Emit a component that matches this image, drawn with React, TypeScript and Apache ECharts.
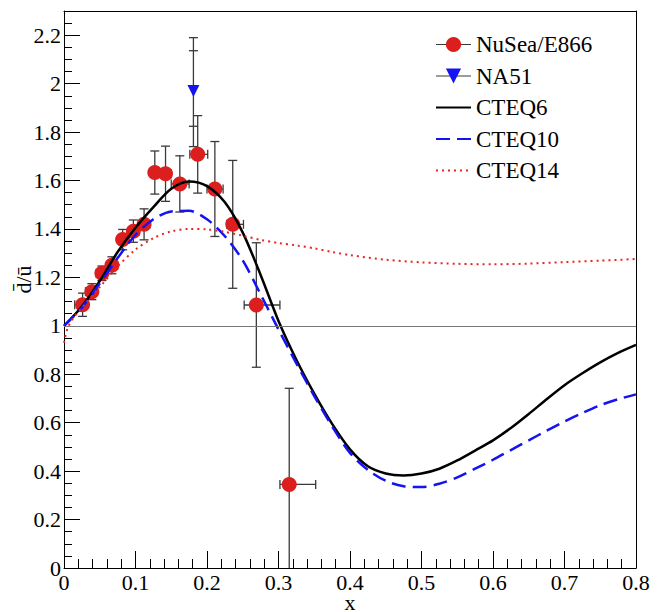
import React, { useEffect, useRef } from 'react';
import * as echarts from 'echarts';

// NuSea/E866 data points
const e866X = [0.026, 0.039, 0.053, 0.067, 0.082, 0.097, 0.112, 0.127, 0.142, 0.162, 0.187, 0.211, 0.236, 0.269, 0.315];
const e866Y = [1.087, 1.141, 1.217, 1.25, 1.356, 1.391, 1.419, 1.633, 1.628, 1.586, 1.708, 1.565, 1.419, 1.086, 0.345];
const e866YErr = [0.048, 0.033, 0.03, 0.035, 0.042, 0.046, 0.064, 0.089, 0.114, 0.116, 0.16, 0.196, 0.264, 0.257, 0.397];
const e866XLow = [0.015, 0.03, 0.045, 0.06, 0.075, 0.09, 0.105, 0.12, 0.135, 0.15, 0.176, 0.2, 0.2275, 0.252, 0.302];
const e866XHigh = [0.03, 0.045, 0.06, 0.075, 0.09, 0.105, 0.12, 0.135, 0.15, 0.175, 0.201, 0.2225, 0.251, 0.302, 0.352];

// NA51 point
const na51X = [0.181];
const na51Y = [1.97];
const na51StatLow = [1.824];
const na51StatHigh = [2.136];
const na51TotLow = [1.74];
const na51TotHigh = [2.19];

// Curves sampled on a common x grid
const curveX = [0, 0.025, 0.05, 0.075, 0.1, 0.125, 0.15, 0.175, 0.2, 0.225, 0.25, 0.275, 0.3, 0.325, 0.35, 0.375, 0.4, 0.425, 0.45, 0.475, 0.5, 0.525, 0.55, 0.575, 0.6, 0.625, 0.65, 0.675, 0.7, 0.725, 0.75, 0.775, 0.8];
const cteq6Y = [1.0, 1.08, 1.185, 1.305, 1.405, 1.49, 1.566, 1.596, 1.577, 1.51, 1.385, 1.21, 1.02, 0.86, 0.72, 0.595, 0.49, 0.42, 0.39, 0.382, 0.39, 0.41, 0.444, 0.485, 0.527, 0.578, 0.636, 0.697, 0.755, 0.804, 0.849, 0.888, 0.921];
const cteq10Y = [1.0, 1.075, 1.175, 1.28, 1.375, 1.44, 1.472, 1.475, 1.44, 1.37, 1.27, 1.13, 0.985, 0.845, 0.71, 0.585, 0.475, 0.405, 0.36, 0.338, 0.334, 0.348, 0.374, 0.41, 0.447, 0.487, 0.527, 0.567, 0.605, 0.64, 0.672, 0.697, 0.717];

// CTEQ14 curve (steep start near x = 0)
const cteq14X = [0, 0.005, 0.0125, 0.025, 0.05, 0.075, 0.1, 0.125, 0.15, 0.175, 0.2, 0.225, 0.25, 0.275, 0.3, 0.325, 0.35, 0.375, 0.4, 0.45, 0.5, 0.55, 0.6, 0.65, 0.7, 0.75, 0.8];
const cteq14Y = [0.93, 0.99, 1.03, 1.075, 1.16, 1.245, 1.315, 1.362, 1.39, 1.4, 1.398, 1.388, 1.372, 1.355, 1.342, 1.332, 1.32, 1.305, 1.292, 1.273, 1.262, 1.256, 1.254, 1.257, 1.263, 1.269, 1.276];

const FONT = '"Liberation Serif", "Times New Roman", serif';
const RED = '#dd1e1e';
const BLUE = '#1414f0';
const BAR = '#3a3a3a';

const zip = (xs: number[], ys: number[]) => xs.map((x, i) => [x, ys[i]]);

export default function App() {
  const ref = useRef<HTMLDivElement>(null);
  useEffect(() => {
    if (!ref.current) return;
    const chart = echarts.init(ref.current, null, { renderer: 'svg' });
    const barStyle = { stroke: BAR, lineWidth: 1.3 };
    const cap = 4.5;
    const vline = (x: number, y1: number, y2: number) => ({ type: 'line', shape: { x1: x, y1, x2: x, y2 }, style: barStyle });
    const hline = (x1: number, x2: number, y: number) => ({ type: 'line', shape: { x1, y1: y, x2, y2: y }, style: barStyle });

    const option: any = {
      animation: false,
      textStyle: { fontFamily: FONT, color: '#000' },
      grid: { left: 64, right: 25, top: 11, bottom: 44, containLabel: false, outerBoundsMode: 'none' },
      xAxis: [
        {
          type: 'value', min: 0, max: 0.8, interval: 0.1, position: 'bottom',
          axisLine: { show: true, onZero: false, lineStyle: { color: '#000', width: 1 } },
          axisTick: { show: true, inside: true, length: 17, lineStyle: { color: '#000', width: 1 } },
          minorTick: { show: true, splitNumber: 5, length: 9, lineStyle: { color: '#000', width: 1 } },
          splitLine: { show: false },
          axisLabel: { fontFamily: FONT, fontSize: 22, color: '#000', margin: 3 },
          name: 'x', nameLocation: 'middle', nameGap: 27, nameMoveOverlap: false,
          nameTextStyle: { fontFamily: FONT, fontSize: 22, color: '#000', lineHeight: 14 },
        },
        {
          type: 'value', min: 0, max: 0.8, position: 'top',
          axisLine: { show: true, onZero: false, lineStyle: { color: '#000', width: 1 } },
          axisTick: { show: false }, axisLabel: { show: false }, splitLine: { show: false },
        },
      ],
      yAxis: [
        {
          type: 'value', min: 0, max: 2.3, interval: 0.2, position: 'left',
          axisLine: { show: true, onZero: false, lineStyle: { color: '#000', width: 1 } },
          axisTick: { show: true, inside: true, length: 16, lineStyle: { color: '#000', width: 1 } },
          splitLine: { show: false },
          axisLabel: { fontFamily: FONT, fontSize: 22, color: '#000', margin: 3, showMaxLabel: false },
          name: 'd\u0304/\u016b', nameLocation: 'middle', nameGap: 30, nameMoveOverlap: false,
          nameTextStyle: { fontFamily: FONT, fontSize: 22, color: '#000', padding: [0, 0, 0, 20] },
        },
        {
          type: 'value', min: 0, max: 2.3, interval: 0.05, position: 'left', offset: 0,
          axisLine: { show: false },
          axisTick: { show: true, inside: true, length: 8, lineStyle: { color: '#000', width: 1 } },
          axisLabel: { show: false }, splitLine: { show: false },
        },
        {
          type: 'value', min: 0, max: 2.3, position: 'right',
          axisLine: { show: true, onZero: false, lineStyle: { color: '#000', width: 1 } },
          axisTick: { show: false }, axisLabel: { show: false }, splitLine: { show: false },
        },
      ],
      legend: {
        orient: 'vertical', left: 430, top: 28,
        itemWidth: 35, itemHeight: 19, itemGap: 8.5,
        textStyle: { fontFamily: FONT, fontSize: 23, color: '#000', lineHeight: 23 },
        data: [
          { name: 'NuSea/E866', lineStyle: { color: BAR, width: 1.2, opacity: 1, type: 'solid' } },
          { name: 'NA51', lineStyle: { color: BAR, width: 1.2, opacity: 1, type: 'solid' } },
          { name: 'CTEQ6', itemStyle: { opacity: 0 } },
          { name: 'CTEQ10', itemStyle: { opacity: 0 } },
          { name: 'CTEQ14', itemStyle: { opacity: 0 } },
        ],
      },
      series: [
        {
          name: 'E866 errors', type: 'custom', clip: true, z: 2, silent: true,
          encode: { x: 0, y: 1 },
          data: e866X.map((x, i) => [x, e866Y[i], e866YErr[i], e866XLow[i], e866XHigh[i]]),
          renderItem: (params: any, api: any) => {
            const x = api.value(0), y = api.value(1), e = api.value(2), xl = api.value(3), xh = api.value(4);
            const c = api.coord([x, y]);
            const t = api.coord([x, y + e]);
            const b = api.coord([x, y - e]);
            const l = api.coord([xl, y]);
            const r = api.coord([xh, y]);
            return {
              type: 'group',
              children: [
                vline(c[0], t[1], b[1]),
                hline(c[0] - cap, c[0] + cap, t[1]),
                hline(c[0] - cap, c[0] + cap, b[1]),
                hline(l[0], r[0], c[1]),
                vline(l[0], c[1] - cap, c[1] + cap),
                vline(r[0], c[1] - cap, c[1] + cap),
              ],
            };
          },
        },
        {
          name: 'NA51 errors', type: 'custom', clip: true, z: 2, silent: true,
          encode: { x: 0, y: 1 },
          data: na51X.map((x, i) => [x, na51Y[i], na51StatLow[i], na51StatHigh[i], na51TotLow[i], na51TotHigh[i]]),
          renderItem: (params: any, api: any) => {
            const x = api.value(0);
            const sl = api.coord([x, api.value(2)]);
            const sh = api.coord([x, api.value(3)]);
            const tl = api.coord([x, api.value(4)]);
            const th = api.coord([x, api.value(5)]);
            const cx = sl[0];
            return {
              type: 'group',
              children: [
                vline(cx, th[1], tl[1]),
                hline(cx - cap, cx + cap, th[1]),
                hline(cx - cap, cx + cap, tl[1]),
                hline(cx - cap, cx + cap, sh[1]),
                hline(cx - cap, cx + cap, sl[1]),
              ],
            };
          },
        },
        {
          name: 'NuSea/E866', type: 'line', z: 3,
          data: zip(e866X, e866Y),
          symbol: 'circle', symbolSize: 15,
          itemStyle: { color: RED },
          lineStyle: { opacity: 0 },
          markLine: {
            silent: true, symbol: ['none', 'none'], label: { show: false },
            lineStyle: { color: '#777', width: 1.2, type: 'solid' },
            data: [{ yAxis: 1 }],
          },
        },
        {
          name: 'NA51', type: 'line', z: 3,
          data: zip(na51X, na51Y),
          symbol: 'triangle', symbolRotate: 180, symbolSize: 12,
          itemStyle: { color: BLUE },
          lineStyle: { opacity: 0 },
        },
        {
          name: 'CTEQ6', type: 'line', z: 4, smooth: 0.3, symbol: 'none',
          data: zip(curveX, cteq6Y),
          itemStyle: { color: '#000' },
          lineStyle: { color: '#000', width: 2.5 },
        },
        {
          name: 'CTEQ10', type: 'line', z: 4, smooth: 0.3, symbol: 'none',
          data: zip(curveX, cteq10Y),
          itemStyle: { color: BLUE },
          lineStyle: { color: BLUE, width: 2.5, type: [14, 7] },
        },
        {
          name: 'CTEQ14', type: 'line', z: 4, smooth: 0.3, symbol: 'none',
          data: zip(cteq14X, cteq14Y),
          itemStyle: { color: '#ee2222' },
          lineStyle: { color: '#ee2222', width: 2, type: [2, 4] },
        },
      ],
    };
    chart.setOption(option);
    return () => chart.dispose();
  }, []);
  return <div ref={ref} style={{ position: 'fixed', left: 0, top: 0, width: 661, height: 612, background: '#fff' }} />;
}
